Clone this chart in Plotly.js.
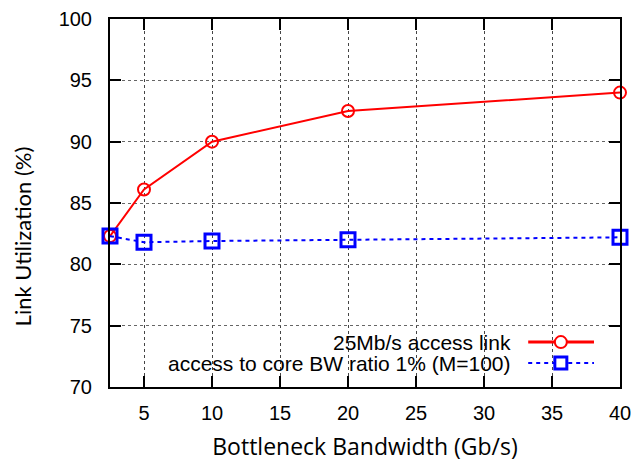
<!DOCTYPE html>
<html>
<head>
<meta charset="utf-8">
<script src="https://cdn.plot.ly/plotly-3.0.1.min.js"></script>
<style>html,body{margin:0;padding:0;background:#fff;}#chart{width:635px;height:464px;}</style>
</head>
<body>
<div id="chart"></div>
<script>
// Data
const bandwidth = [2.5, 5, 10, 20, 40];
const accessLink25 = [82.3, 86.1, 90.0, 92.5, 94.0];
const coreRatio1 = [82.3, 81.8, 81.9, 82.0, 82.2];
const seriesNames = ["25Mb/s access link", "access to core BW ratio 1% (M=100)"];
const xTicks = [5, 10, 15, 20, 25, 30, 35, 40];
const yTicks = [70, 75, 80, 85, 90, 95, 100];

const traces = [
  {x: bandwidth, y: accessLink25, name: seriesNames[0], mode: 'lines+markers',
   line: {color: '#ff0000', width: 2},
   marker: {symbol: 'circle-open', size: 12, color: '#ff0000', line: {width: 2}},
   cliponaxis: false},
  {x: bandwidth, y: coreRatio1, name: seriesNames[1], mode: 'lines+markers',
   line: {color: '#0000ff', width: 2, dash: '4px,4px'},
   marker: {symbol: 'square-open', size: 14, color: '#0000ff', line: {width: 3}},
   cliponaxis: false}
];

const tickFont = {family: 'Liberation Sans, Arial, sans-serif', size: 20, color: '#000'};
const legendFont = {family: 'Liberation Sans, Arial, sans-serif', size: 21, color: '#000'};
const legendX = 0.79, rows = [0.122, 0.065];
const lineX0 = 0.82, lineX1 = 0.949, markX = 0.884;

const layout = {
  width: 635, height: 464,
  margin: {l: 110, r: 15, t: 19, b: 77},
  paper_bgcolor: '#fff', plot_bgcolor: '#fff',
  showlegend: false,
  xaxis: {
    range: [2.5, 40], tickvals: xTicks, ticktext: xTicks.map(String),
    ticks: 'inside', ticklen: 11, tickwidth: 2, tickcolor: '#000',
    showline: true, linecolor: '#000', linewidth: 2, mirror: 'ticks',
    showgrid: true, gridcolor: '#444', gridwidth: 1, griddash: 'dot',
    zeroline: false, tickfont: tickFont, ticklabelstandoff: 7,
    title: {text: 'Bottleneck Bandwidth (Gb/s)', font: {family: 'Open Sans, sans-serif', size: 23, color: '#000'}, standoff: 16}
  },
  yaxis: {
    range: [70, 100], tickvals: yTicks, ticktext: yTicks.map(String),
    ticks: 'inside', ticklen: 11, tickwidth: 2, tickcolor: '#000',
    showline: true, linecolor: '#000', linewidth: 2, mirror: 'ticks',
    showgrid: true, gridcolor: '#666', gridwidth: 1, griddash: 'dot',
    zeroline: false, tickfont: tickFont, ticklabelstandoff: 12
  },
  annotations: [
    {xref: 'paper', yref: 'paper', x: -0.172, y: 0.41, text: 'Link Utilization (%)', textangle: -90,
     showarrow: false, xanchor: 'center', yanchor: 'middle', font: {family: 'Lato, sans-serif', size: 22, color: '#000'}},
    {xref: 'paper', yref: 'paper', x: legendX, y: rows[0], text: seriesNames[0], showarrow: false,
     xanchor: 'right', yanchor: 'middle', font: legendFont},
    {xref: 'paper', yref: 'paper', x: legendX, y: rows[1], text: seriesNames[1], showarrow: false,
     xanchor: 'right', yanchor: 'middle', font: legendFont}
  ],
  shapes: [
    {type: 'line', xref: 'paper', yref: 'paper', x0: lineX0, x1: lineX1, y0: rows[0], y1: rows[0], line: {color: '#ff0000', width: 3}},
    {type: 'circle', xref: 'paper', yref: 'paper', xsizemode: 'pixel', ysizemode: 'pixel', xanchor: markX, yanchor: rows[0],
     x0: -6, x1: 6, y0: -6, y1: 6, fillcolor: '#fff', line: {color: '#ff0000', width: 2}},
    {type: 'line', xref: 'paper', yref: 'paper', x0: lineX0, x1: lineX1, y0: rows[1], y1: rows[1], line: {color: '#0000ff', width: 2, dash: '4px,4px'}},
    {type: 'rect', xref: 'paper', yref: 'paper', xsizemode: 'pixel', ysizemode: 'pixel', xanchor: markX, yanchor: rows[1],
     x0: -6, x1: 6, y0: -6, y1: 6, fillcolor: '#fff', line: {color: '#0000ff', width: 3}}
  ]
};

Plotly.newPlot('chart', traces, layout, {displayModeBar: false, staticPlot: true});
</script>
</body>
</html>
